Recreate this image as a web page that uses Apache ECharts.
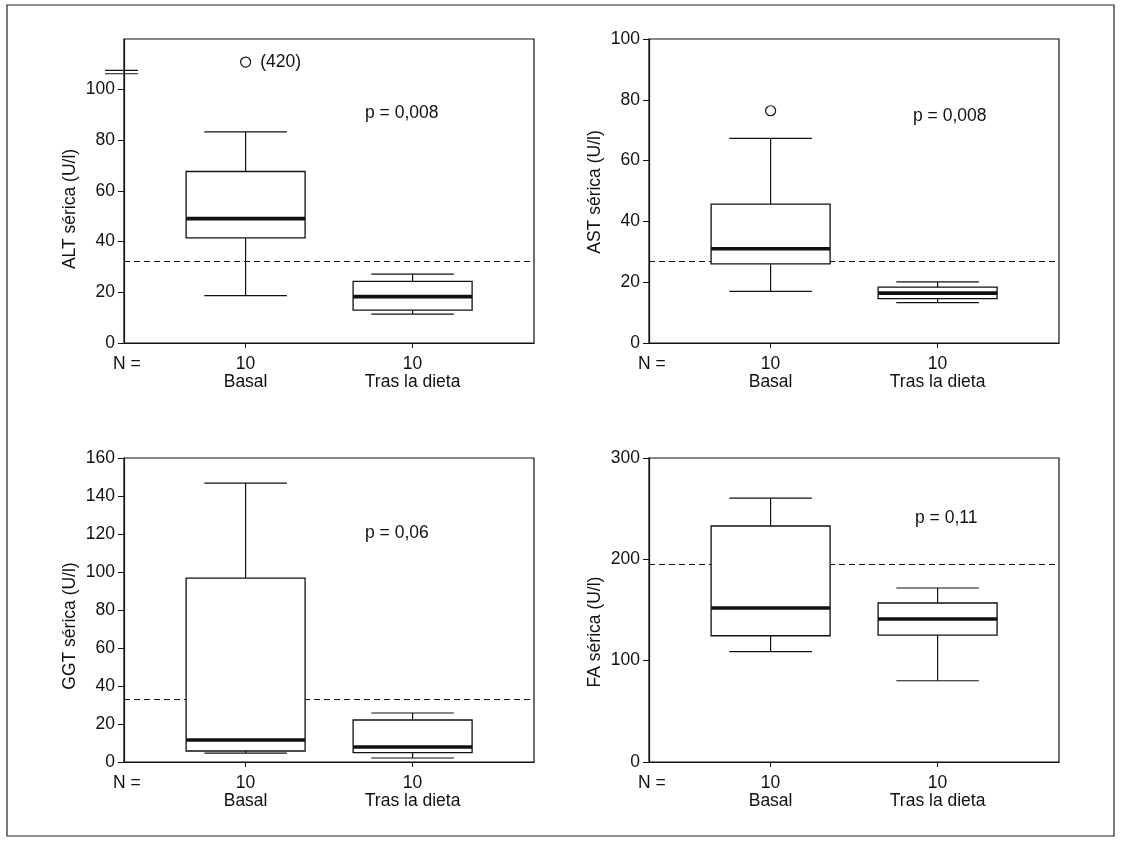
<!DOCTYPE html>
<html>
<head>
<meta charset="utf-8">
<script src="https://cdn.jsdelivr.net/npm/echarts@6/dist/echarts.min.js"></script>
<style>
  html, body { margin: 0; padding: 0; background: #fff; }
  #chart { width: 1130px; height: 842px; }
</style>
</head>
<body>
<div id="chart"></div>
<script>
// ---------- data ----------
const categories = ['Basal', 'Tras la dieta'];
const nCounts = [10, 10];
const categoryPos = [1, 2];

// [min whisker, Q1, median, Q3, max whisker]
const altBox = [[18.7, 41.5, 49.1, 67.7, 83.3], [11.4, 13.0, 18.3, 24.3, 27.2]];
const astBox = [[17.0, 26.0, 31.0, 45.7, 67.3], [13.3, 14.6, 16.4, 18.4, 20.1]];
const ggtBox = [[4.7, 5.8, 11.6, 96.8, 146.8], [2.1, 4.9, 7.9, 22.1, 25.8]];
const faBox  = [[108.9, 124.6, 152.0, 232.9, 260.5], [80.2, 125.3, 141.1, 156.9, 171.7]];

// outliers: [categoryPos, value, label]
const altOutliers = [[1, 110.9, '(420)']];
const astOutliers = [[1, 76.4, '']];
const ggtOutliers = [];
const faOutliers = [];

// axis break marks on ALT axis
const altBreakMarks = [106.3, 107.6];

// reference (upper normal) lines
const refLines = [32.4, 27.0, 33.2, 195.4];

const pValues = ['p = 0,008', 'p = 0,008', 'p = 0,06', 'p = 0,11'];
const yNames = ['ALT sérica (U/l)', 'AST sérica (U/l)', 'GGT sérica (U/l)', 'FA sérica (U/l)'];

const yMax = [120, 100, 160, 300];
const yTicks = [
  [0, 20, 40, 60, 80, 100],
  [0, 20, 40, 60, 80, 100],
  [0, 20, 40, 60, 80, 100, 120, 140, 160],
  [0, 100, 200, 300]
];

// ---------- layout ----------
const FONT = 'Liberation Sans, Arial, Helvetica, sans-serif';
const FS = 17.5;
const TXT = '#111';
const grids = [
  { left: 124, top: 39, width: 410, height: 304 },
  { left: 649, top: 39, width: 410, height: 304 },
  { left: 124, top: 458, width: 410, height: 304 },
  { left: 649, top: 458, width: 410, height: 304 }
];
const xMin = 1 - 121.6 / 167;
const xMax = xMin + 410 / 167;

const boxes = [altBox, astBox, ggtBox, faBox];
const outliers = [altOutliers, astOutliers, ggtOutliers, faOutliers];

function boxRender(params, api) {
  const x = api.value(0);
  const lo = api.coord([x, api.value(1)]);
  const q1 = api.coord([x, api.value(2)]);
  const md = api.coord([x, api.value(3)]);
  const q3 = api.coord([x, api.value(4)]);
  const hi = api.coord([x, api.value(5)]);
  const cx = lo[0];
  const hb = 59.5, hc = 41.3;
  const st = { stroke: '#111', lineWidth: 1.2, fill: null };
  return {
    type: 'group',
    children: [
      { type: 'line', shape: { x1: cx, y1: hi[1], x2: cx, y2: q3[1] }, style: st },
      { type: 'line', shape: { x1: cx, y1: q1[1], x2: cx, y2: lo[1] }, style: st },
      { type: 'line', shape: { x1: cx - hc, y1: hi[1], x2: cx + hc, y2: hi[1] }, style: st },
      { type: 'line', shape: { x1: cx - hc, y1: lo[1], x2: cx + hc, y2: lo[1] }, style: st },
      { type: 'rect', shape: { x: cx - hb, y: q3[1], width: 2 * hb, height: q1[1] - q3[1] },
        style: { fill: '#fff', stroke: '#111', lineWidth: 1.3 } },
      { type: 'line', shape: { x1: cx - hb, y1: md[1], x2: cx + hb, y2: md[1] },
        style: { stroke: '#111', lineWidth: 3.6 } }
    ]
  };
}

function breakRender(params, api) {
  const p = api.coord([xMin, api.value(0)]);
  return { type: 'line', shape: { x1: p[0] - 19, y1: p[1], x2: p[0] + 14, y2: p[1] },
           style: { stroke: '#111', lineWidth: 1.1 } };
}

const xAxes = [], yAxes = [], series = [], graphics = [];

for (let i = 0; i < 4; i++) {
  xAxes.push({
    gridIndex: i, type: 'value', min: xMin, max: xMax,
    splitLine: { show: false },
    axisLine: { lineStyle: { color: '#111', width: 1.2 } },
    axisTick: { customValues: categoryPos, length: 5, lineStyle: { color: '#111' } },
    axisLabel: {
      customValues: categoryPos, margin: 12, lineHeight: 18,
      fontSize: FS, fontFamily: FONT, color: TXT,
      formatter: v => { const k = categoryPos.indexOf(Math.round(v)); return k < 0 ? '' : nCounts[k] + '\n' + categories[k]; }
    }
  });
  yAxes.push({
    gridIndex: i, type: 'value', min: 0, max: yMax[i],
    splitLine: { show: false },
    axisLine: { show: true, lineStyle: { color: '#111', width: 1.2 } },
    axisTick: { show: true, customValues: yTicks[i], length: 6, lineStyle: { color: '#111' } },
    axisLabel: { customValues: yTicks[i], margin: 9, fontSize: FS, fontFamily: FONT, color: TXT }
  });
  series.push({
    type: 'custom', xAxisIndex: i, yAxisIndex: i,
    renderItem: boxRender,
    encode: { x: 0, y: [1, 2, 3, 4, 5] },
    data: boxes[i].map((b, k) => [categoryPos[k]].concat(b)),
    silent: true, z: 3,
    markLine: {
      silent: true, symbol: 'none', label: { show: false },
      lineStyle: { color: '#111', type: [6, 4], width: 1 },
      data: [{ yAxis: refLines[i] }],
      z: 2
    }
  });
  if (outliers[i].length) {
    series.push({
      type: 'scatter', xAxisIndex: i, yAxisIndex: i,
      symbol: 'circle', symbolSize: 10,
      itemStyle: { color: '#fff', borderColor: '#111', borderWidth: 1.2, opacity: 1 },
      data: outliers[i].map(o => ({ value: [o[0], o[1]], name: o[2] })),
      label: { show: true, position: 'right', distance: 9, formatter: p => p.name,
               fontSize: FS, fontFamily: FONT, color: '#111', opacity: 1, textBorderWidth: 0 },
      silent: true, z: 4
    });
  }
  const g = grids[i];
  graphics.push({
    type: 'text', x: g.left - 54, y: g.top + 152 + [18, 1, 16, 22][i], rotation: Math.PI / 2,
    style: { text: yNames[i], fontSize: FS, fontFamily: FONT, fill: TXT, textAlign: 'center', textVerticalAlign: 'middle' }
  });
  graphics.push({
    type: 'text', x: g.left - 11, y: g.top + g.height + 21,
    style: { text: 'N =', fontSize: FS, fontFamily: FONT, fill: TXT, textAlign: 'left', textVerticalAlign: 'middle' }
  });
}

// p-value labels
const pPos = [[365, 113], [913, 116], [365, 533], [915, 518]];
pValues.forEach((t, i) => graphics.push({
  type: 'text', x: pPos[i][0], y: pPos[i][1],
  style: { text: t, fontSize: FS, fontFamily: FONT, fill: TXT, textAlign: 'left', textVerticalAlign: 'middle' }
}));

// ALT axis break marks
series.push({
  type: 'custom', xAxisIndex: 0, yAxisIndex: 0, renderItem: breakRender,
  encode: { y: 0 }, data: altBreakMarks.map(v => [v]), silent: true, clip: false, z: 5
});

// outer frame
graphics.push({
  type: 'rect', shape: { x: 7, y: 5, width: 1107, height: 831 },
  style: { fill: null, stroke: '#222', lineWidth: 1.2 }, z: -1
});

const chart = echarts.init(document.getElementById('chart'), null, { renderer: 'canvas' });
chart.setOption({
  backgroundColor: '#fff',
  animation: false,
  grid: grids.map(g => Object.assign({ show: true, borderColor: '#111', borderWidth: 1.2, backgroundColor: 'transparent' }, g)),
  xAxis: xAxes,
  yAxis: yAxes,
  series: series,
  graphic: graphics
});
</script>
</body>
</html>
